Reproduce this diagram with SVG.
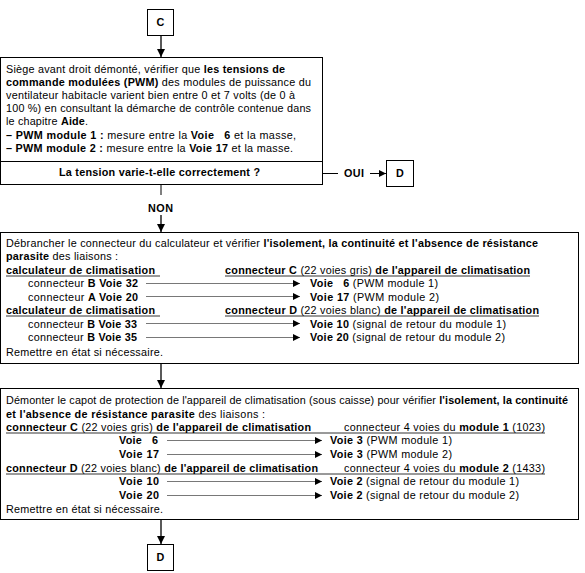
<svg xmlns="http://www.w3.org/2000/svg" width="585" height="573" viewBox="0 0 585 573">
<defs>
<marker id="ah" markerWidth="9" markerHeight="9" refX="8" refY="4.5" orient="auto" markerUnits="userSpaceOnUse"><path d="M0,0.5 L8,4.5 L0,8.5 z" fill="#000"/></marker>
<marker id="sa" markerWidth="8" markerHeight="8" refX="7" refY="3.5" orient="auto" markerUnits="userSpaceOnUse"><path d="M0,0 L7,3.5 L0,7 z" fill="#000"/></marker>
</defs>
<style>
text{font-family:"Liberation Sans",Arial,sans-serif;font-size:10.8px;fill:#000}
.b{font-weight:bold}
.c{text-anchor:middle}
.box{fill:#fff;stroke:#000;stroke-width:1}
.flow{stroke:#000;stroke-width:1.3;fill:none}
.lk{stroke:#555;stroke-width:0.8;fill:none}
.ul{stroke:#000;stroke-width:0.8}
</style>
<rect width="585" height="573" fill="#fff"/>

<g id="nodeC">
<rect class="box" x="147.5" y="9.5" width="26" height="26"/>
<text class="b c" x="160.5" y="26">C</text>
</g>

<g id="box1">
<rect class="box" x="0.5" y="57.5" width="322" height="127"/>
<line x1="0.5" y1="161.5" x2="322.5" y2="161.5" stroke="#000" stroke-width="1"/>
<text x="6" y="73" textLength="279">Siège avant droit démonté, vérifier que <tspan class="b">les tensions de</tspan></text>
<text x="6" y="86" textLength="305"><tspan class="b">commande modulées (PWM)</tspan> des modules de puissance du</text>
<text x="6" y="99" textLength="289">ventilateur habitacle varient bien entre 0 et 7 volts (de 0 à</text>
<text x="6" y="112" textLength="305">100 %) en consultant la démarche de contrôle contenue dans</text>
<text x="6" y="125" textLength="82">le chapitre <tspan class="b">Aide</tspan>.</text>
<text x="6" y="139" textLength="290" xml:space="preserve"><tspan class="b">– PWM module 1 :</tspan> mesure entre la <tspan class="b">Voie   6</tspan> et la masse,</text>
<text x="6" y="152" textLength="287" xml:space="preserve"><tspan class="b">– PWM module 2 :</tspan> mesure entre la <tspan class="b">Voie 17</tspan> et la masse.</text>
<text class="b" x="59" y="176" textLength="201">La tension varie-t-elle correctement ?</text>
</g>

<g id="nodeD1">
<rect class="box" x="386.5" y="160.5" width="27" height="26"/>
<text class="b c" x="400" y="177">D</text>
</g>

<g id="box2">
<rect class="box" x="0.5" y="232.5" width="578" height="131"/>
<text x="6" y="247" textLength="532">Débrancher le connecteur du calculateur et vérifier <tspan class="b">l'isolement, la continuité et l'absence de résistance</tspan></text>
<text x="6" y="260" textLength="112"><tspan class="b">parasite</tspan> des liaisons :</text>
<text class="b" x="6" y="274" textLength="149">calculateur de climatisation</text>
<text x="225" y="274" textLength="305"><tspan class="b">connecteur C</tspan> (22 voies gris) <tspan class="b">de l'appareil de climatisation</tspan></text>
<line class="ul" x1="6" y1="276" x2="160" y2="276"/>
<line class="ul" x1="225" y1="276" x2="530" y2="276"/>
<text x="28" y="287" textLength="110">connecteur <tspan class="b">B Voie 32</tspan></text>
<text x="310" y="287" textLength="128" xml:space="preserve"><tspan class="b">Voie   6</tspan> (PWM module 1)</text>
<text x="28" y="301" textLength="110">connecteur <tspan class="b">A Voie 20</tspan></text>
<text x="310" y="301" textLength="129" xml:space="preserve"><tspan class="b">Voie 17</tspan> (PWM module 2)</text>
<text class="b" x="6" y="314" textLength="149">calculateur de climatisation</text>
<text x="225" y="314" textLength="314"><tspan class="b">connecteur D</tspan> (22 voies blanc) <tspan class="b">de l'appareil de climatisation</tspan></text>
<line class="ul" x1="6" y1="316" x2="160" y2="316"/>
<line class="ul" x1="225" y1="316" x2="539" y2="316"/>
<text x="28" y="328" textLength="109">connecteur <tspan class="b">B Voie 33</tspan></text>
<text x="310" y="328" textLength="196"><tspan class="b">Voie 10</tspan> (signal de retour du module 1)</text>
<text x="28" y="341" textLength="109">connecteur <tspan class="b">B Voie 35</tspan></text>
<text x="310" y="341" textLength="195"><tspan class="b">Voie 20</tspan> (signal de retour du module 2)</text>
<text x="6" y="356" textLength="157">Remettre en état si nécessaire.</text>
</g>

<g id="box3">
<rect class="box" x="0.5" y="388.5" width="578" height="131"/>
<text x="6" y="404" textLength="562">Démonter le capot de protection de l'appareil de climatisation (sous caisse) pour vérifier <tspan class="b">l'isolement, la continuité</tspan></text>
<text x="6" y="418" textLength="259"><tspan class="b">et l'absence de résistance parasite</tspan> des liaisons :</text>
<text x="6" y="431" textLength="305"><tspan class="b">connecteur C</tspan> (22 voies gris) <tspan class="b">de l'appareil de climatisation</tspan></text>
<text x="344" y="431" textLength="201">connecteur 4 voies du <tspan class="b">module 1</tspan> (1023)</text>
<line class="ul" x1="6" y1="433" x2="545" y2="433"/>
<text class="b" x="119" y="444" textLength="39" xml:space="preserve">Voie   6</text>
<text x="330" y="444" textLength="122"><tspan class="b">Voie 3</tspan> (PWM module 1)</text>
<text class="b" x="119" y="458" textLength="40">Voie 17</text>
<text x="330" y="458" textLength="122"><tspan class="b">Voie 3</tspan> (PWM module 2)</text>
<text x="6" y="472" textLength="312"><tspan class="b">connecteur D</tspan> (22 voies blanc) <tspan class="b">de l'appareil de climatisation</tspan></text>
<text x="344" y="472" textLength="201">connecteur 4 voies du <tspan class="b">module 2</tspan> (1433)</text>
<line class="ul" x1="6" y1="474" x2="545" y2="474"/>
<text class="b" x="119" y="485" textLength="40">Voie 10</text>
<text x="330" y="485" textLength="189"><tspan class="b">Voie 2</tspan> (signal de retour du module 1)</text>
<text class="b" x="119" y="499" textLength="40">Voie 20</text>
<text x="330" y="499" textLength="189"><tspan class="b">Voie 2</tspan> (signal de retour du module 2)</text>
<text x="6" y="513" textLength="157">Remettre en état si nécessaire.</text>
</g>

<g id="nodeD2">
<rect class="box" x="147.5" y="544.5" width="26" height="26"/>
<text class="b c" x="160.5" y="561">D</text>
</g>

<g id="connectors">
<line class="flow" x1="161" y1="35.5" x2="161" y2="57" marker-end="url(#ah)"/>
<line stroke="#000" stroke-width="1" x1="322.5" y1="173.5" x2="338" y2="173.5"/>
<text class="b" x="344" y="177" textLength="20">OUI</text>
<line stroke="#000" stroke-width="1" x1="370" y1="173.5" x2="386" y2="173.5" marker-end="url(#sa)"/>
<line stroke="#000" stroke-width="1" x1="161" y1="184.5" x2="161" y2="195"/>
<text class="b" x="148" y="212" textLength="25">NON</text>
<line class="flow" x1="161" y1="215" x2="161" y2="232" marker-end="url(#ah)"/>
<line class="flow" x1="161" y1="363.5" x2="161" y2="388" marker-end="url(#ah)"/>
<line class="flow" x1="161" y1="519.5" x2="161" y2="544" marker-end="url(#ah)"/>
<line class="lk" x1="146" y1="283.5" x2="300" y2="283.5" marker-end="url(#sa)"/>
<line class="lk" x1="146" y1="296.5" x2="300" y2="296.5" marker-end="url(#sa)"/>
<line class="lk" x1="146" y1="323.5" x2="300" y2="323.5" marker-end="url(#sa)"/>
<line class="lk" x1="146" y1="337.5" x2="300" y2="337.5" marker-end="url(#sa)"/>
<line class="lk" x1="167" y1="440.5" x2="322" y2="440.5" marker-end="url(#sa)"/>
<line class="lk" x1="167" y1="454.5" x2="322" y2="454.5" marker-end="url(#sa)"/>
<line class="lk" x1="167" y1="481.5" x2="322" y2="481.5" marker-end="url(#sa)"/>
<line class="lk" x1="167" y1="495.5" x2="322" y2="495.5" marker-end="url(#sa)"/>
</g>
</svg>
